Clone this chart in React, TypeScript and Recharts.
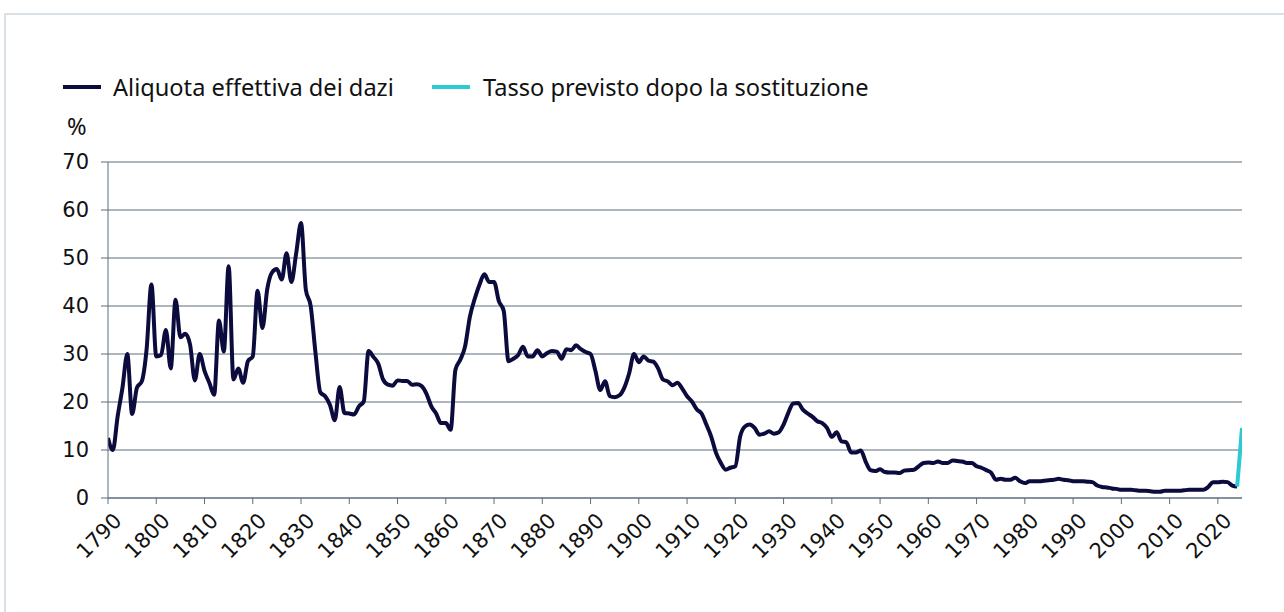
import { LineChart, Line, XAxis, YAxis, CartesianGrid } from "recharts";

// anni dal 1790 al 2024, un valore per anno
const START_YEAR = 1790;
const tariffRate = [
  12.5, 10, 17, 23, 30, 17.5, 23, 24.3, 31, 44.5,
  29.5, 29.8, 35, 27, 41.3, 33.5, 34.2, 32, 24.5, 30,
  26.5, 24, 21.5, 37, 30.5, 48.3, 24.7, 27, 24, 28.5,
  29.5, 43.2, 35.4, 43.5, 47, 47.7, 45.5, 51, 45, 51,
  57.3, 43.4, 40, 30.2, 22, 21.2, 19.4, 16.2, 23.1, 17.7,
  17.6, 17.4, 19.1, 20.1, 30.6, 29.4, 28, 24.7, 23.6, 23.4,
  24.5, 24.4, 24.4, 23.6, 23.7, 23.3, 21.7, 19.1, 17.6, 15.6,
  15.6, 14.2, 26.7, 28.8, 31.6, 37.8, 41.5, 44.5, 46.6, 45,
  45, 41, 39, 28.5, 29, 29.8, 31.5, 29.5, 29.5, 30.8,
  29.5, 30.2, 30.6, 30.5, 29, 31, 30.8, 31.8, 31, 30.4,
  30, 26.5, 22.5, 24.3, 21.2, 21, 21.4, 23, 26, 30,
  28.3, 29.5, 28.6, 28.4, 27, 24.7, 24.3, 23.5, 24, 22.8,
  21.2, 20.1, 18.5, 17.6, 15.3, 12.8, 9.4, 7.3, 5.9, 6.3,
  6.6, 12.8, 14.9, 15.3, 14.6, 13.2, 13.4, 13.9, 13.4, 13.7,
  15.3, 17.8, 19.7, 19.8, 18.4, 17.6, 16.9, 16, 15.6, 14.6,
  12.7, 13.7, 11.8, 11.6, 9.5, 9.5, 9.9, 7.6, 5.8, 5.6,
  6.0, 5.4, 5.3, 5.3, 5.2, 5.7, 5.8, 5.9, 6.6, 7.3,
  7.4, 7.3, 7.6, 7.3, 7.3, 7.8, 7.7, 7.6, 7.3, 7.3,
  6.6, 6.3, 5.8, 5.3, 3.8, 4.0, 3.8, 3.8, 4.2, 3.5,
  3.1, 3.5, 3.5, 3.5, 3.6, 3.7, 3.8, 4.0, 3.8, 3.7,
  3.5, 3.5, 3.5, 3.4, 3.3, 2.6, 2.3, 2.2, 2.0, 1.9,
  1.7, 1.7, 1.7, 1.6, 1.5, 1.5, 1.4, 1.3, 1.3, 1.5,
  1.5, 1.5, 1.5, 1.6, 1.7, 1.7, 1.7, 1.7, 2.3, 3.3,
  3.3, 3.4, 3.3, 2.6, 2.4,
];
const projectedYears = [2024, 2025];
const projectedRate = [2.4, 14.6];

const xTicks = [1790, 1800, 1810, 1820, 1830, 1840, 1850, 1860, 1870, 1880, 1890, 1900, 1910, 1920, 1930, 1940, 1950, 1960, 1970, 1980, 1990, 2000, 2010, 2020];
const yTicks = [0, 10, 20, 30, 40, 50, 60, 70];

const seriesNames = ["Aliquota effettiva dei dazi", "Tasso previsto dopo la sostituzione"];
const NAVY = "#0b0b3d";
const CYAN = "#2ccbd4";
const GRID = "#5d6d7c";

const chartData = tariffRate.map((v, i) => ({ year: START_YEAR + i, tariff: v as number | null, projected: null as number | null }));
projectedYears.forEach((y, i) => {
  const row = chartData.find((d) => d.year === y);
  if (row) row.projected = projectedRate[i];
  else chartData.push({ year: y, tariff: null, projected: projectedRate[i] });
});

const XTick = (props: any) => {
  const { x, y, payload } = props;
  const ax = x + 15;
  const ay = y + 18;
  return (
    <text
      x={ax}
      y={ay}
      textAnchor="end"
      fill="#111"
      fontSize={21}
      fontFamily="DejaVu Sans"
      transform={`rotate(-45, ${ax}, ${ay})`}
    >
      {payload.value}
    </text>
  );
};

const legendFont = { fontFamily: "'Noto Sans', sans-serif", fontSize: 23.6, color: "#111" };

function ChartLegend() {
  const items = [
    { left: 63, textLeft: 113, color: NAVY, name: seriesNames[0] },
    { left: 432, textLeft: 483, color: CYAN, name: seriesNames[1] },
  ];
  return (
    <div style={{ position: "absolute", left: 0, top: 72, width: 1284, height: 30, ...legendFont }}>
      {items.map((item) => (
        <div key={item.name}>
          <span style={{ position: "absolute", left: item.left, top: 13, width: 38, height: 4, background: item.color }} />
          <span style={{ position: "absolute", left: item.textLeft, top: 0, lineHeight: "30px", whiteSpace: "nowrap" }}>{item.name}</span>
        </div>
      ))}
    </div>
  );
}

export default function App() {
  return (
    <div style={{ position: "absolute", left: 0, top: 0, width: 1284, height: 612, background: "#fff", overflow: "hidden" }}>
      <div style={{ position: "absolute", left: 4, top: 13, width: 1300, height: 640, border: "2px solid #d9e0e6" }} />
      <ChartLegend />
      <div style={{ position: "absolute", left: 67, top: 111, lineHeight: "30px", ...legendFont }}>%</div>
      <div style={{ position: "absolute", left: 0, top: 0 }}>
        <LineChart width={1284} height={612} data={chartData} margin={{ top: 162, right: 42, bottom: 0, left: 48 }}>
          <CartesianGrid vertical={false} stroke={GRID} strokeWidth={1} />
          <XAxis
            dataKey="year"
            type="number"
            domain={[1790, 2025]}
            ticks={xTicks}
            interval={0}
            allowDataOverflow
            stroke={GRID}
            tickSize={6}
            tickMargin={0}
            tick={<XTick />}
            height={114}
          />
          <YAxis
            domain={[0, 70]}
            ticks={yTicks}
            interval={0}
            width={60}
            stroke={GRID}
            tickSize={7}
            tickMargin={12}
            tick={{ fill: "#111", fontSize: 21, fontFamily: "DejaVu Sans" }}
          />
          <Line
            type="monotone"
            dataKey="tariff"
            name={seriesNames[0]}
            stroke={NAVY}
            strokeWidth={4}
            dot={false}
            connectNulls={false}
            isAnimationActive={false}
          />
          <Line
            type="linear"
            dataKey="projected"
            name={seriesNames[1]}
            stroke={CYAN}
            strokeWidth={4}
            dot={false}
            isAnimationActive={false}
          />
        </LineChart>
      </div>
    </div>
  );
}
